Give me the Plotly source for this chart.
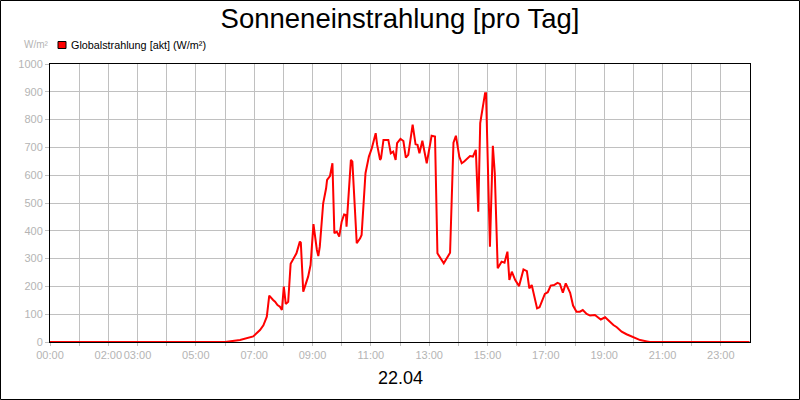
import plotly.graph_objects as go

# times of the day (22.04) and global radiation in W/m²
zeit = ["00:00", "06:00", "06:31", "06:58", "07:12", "07:19", "07:26", "07:31", "07:39", "07:43",
        "07:48", "07:53", "07:57", "08:01", "08:05", "08:10", "08:15", "08:22", "08:27", "08:34",
        "08:36", "08:41", "08:47", "08:51", "08:56", "09:02", "09:09", "09:12", "09:15", "09:22",
        "09:28", "09:30", "09:36", "09:41", "09:45", "09:50", "09:55", "10:00", "10:05", "10:09",
        "10:10", "10:14", "10:19", "10:22", "10:26", "10:31", "10:38", "10:41", "10:49", "10:56",
        "11:02", "11:05", "11:10", "11:13", "11:19", "11:21", "11:26", "11:36", "11:41", "11:46",
        "11:51", "11:54", "12:01", "12:07", "12:12", "12:17", "12:26", "12:32", "12:36", "12:40",
        "12:46", "12:55", "13:05", "13:12", "13:17", "13:30", "13:43", "13:50", "13:55", "14:02",
        "14:07", "14:12", "14:24", "14:30", "14:36", "14:41", "14:45", "14:55", "14:57", "15:05",
        "15:11", "15:15", "15:21", "15:29", "15:35", "15:41", "15:45", "15:50", "15:57", "16:05",
        "16:14", "16:21", "16:26", "16:31", "16:42", "16:47", "16:58", "17:04", "17:10", "17:17",
        "17:24", "17:29", "17:35", "17:41", "17:50", "17:56", "18:03", "18:10", "18:16", "18:24",
        "18:31", "18:41", "18:53", "19:02", "19:08", "19:19", "19:26", "19:36", "19:46", "20:00",
        "20:14", "20:28", "20:34", "23:59"]
globalstrahlung = [0, 0, 7, 20, 43, 60, 91, 167, 151, 145,
                   133, 127, 115, 199, 137, 145, 281, 301, 319, 361,
                   357, 181, 217, 235, 277, 424, 331, 309, 343, 499,
                   553, 583, 597, 643, 391, 397, 379, 433, 459, 457,
                   415, 523, 655, 649, 511, 355, 373, 385, 607, 667,
                   697, 715, 751, 709, 655, 661, 727, 727, 679, 685,
                   655, 715, 731, 723, 663, 673, 782, 711, 709, 679,
                   724, 643, 742, 739, 319, 283, 321, 717, 742, 667,
                   643, 649, 669, 667, 691, 469, 787, 895, 895, 343,
                   706, 607, 265, 289, 285, 325, 223, 253, 223, 201,
                   261, 255, 193, 205, 121, 125, 173, 179, 203, 205,
                   213, 209, 177, 211, 177, 131, 109, 109, 115, 101,
                   95, 97, 81, 89, 79, 61, 53, 37, 28, 17,
                   7, 2, 0, 0]

tag = "2013-04-22"
stunden = ["%02d:00" % h for h in range(24)]
beschriftet = ["00:00", "02:00", "03:00", "05:00", "07:00", "09:00", "11:00",
               "13:00", "15:00", "17:00", "19:00", "21:00", "23:00"]

x = [tag + " " + t for t in zeit]

fig = go.Figure()
fig.add_trace(go.Scatter(x=x, y=globalstrahlung, mode="lines",
                         line=dict(color="#ff0000", width=2), showlegend=False))

fig.update_layout(
    width=800, height=400,
    margin=dict(l=50, r=50, t=64, b=58, autoexpand=False),
    paper_bgcolor="white", plot_bgcolor="white",
    font=dict(family="Liberation Sans, Arial, sans-serif", size=11, color="#b4b4b4"),
    title=dict(text="Sonneneinstrahlung [pro Tag]", x=0.5, xanchor="center", y=0.955, yanchor="middle",
               font=dict(size=27.5, color="black")),
    showlegend=False,
    xaxis=dict(range=[tag + " 00:00", "2013-04-23 00:00"], type="date",
               tickvals=[tag + " " + s for s in stunden],
               ticktext=[s if s in beschriftet else "" for s in stunden],
               tickangle=0, automargin=False,
               showgrid=True, gridcolor="#c0c0c0", gridwidth=1,
               ticks="outside", ticklen=3, tickcolor="#c0c0c0",
               showline=True, linecolor="black", mirror=True,
               tickfont=dict(size=11, color="#b4b4b4"), zeroline=False),
    yaxis=dict(range=[0, 1000], dtick=100, showgrid=True, gridcolor="#c0c0c0",
               automargin=False,
               ticks="outside", ticklen=4, tickcolor="#c0c0c0",
               showline=True, linecolor="black", mirror=True,
               tickfont=dict(size=11, color="#b4b4b4"), zeroline=False),
)

# legend drawn by hand: red square + text
fig.add_shape(type="rect", xref="paper", yref="paper",
              x0=(58 - 50) / 700, x1=(66 - 50) / 700,
              y0=(342 - 48.5) / 278, y1=(342 - 41.5) / 278,
              fillcolor="#ff0000", line=dict(color="black", width=1))
fig.add_annotation(text="Globalstrahlung [akt] (W/m²)", xref="paper", yref="paper",
                   x=(69 - 50) / 700, y=(342 - 45) / 278, xanchor="left", yanchor="middle",
                   showarrow=False, font=dict(size=10.8, color="black"))
fig.add_annotation(text="W/m²", xref="paper", yref="paper", x=(36 - 50) / 700, y=(342 - 45) / 278,
                   xanchor="center", yanchor="middle",
                   showarrow=False, font=dict(size=10, color="#b4b4b4"))
fig.add_annotation(text="22.04", xref="paper", yref="paper", x=0.5, y=(342 - 378) / 278,
                   xanchor="center", yanchor="middle", showarrow=False, font=dict(size=18, color="black"))
# frame around the whole picture
fig.add_shape(type="rect", xref="paper", yref="paper",
              x0=(0.5 - 50) / 700, x1=(799.5 - 50) / 700,
              y0=(342 - 399.5) / 278, y1=(342 - 0.5) / 278,
              line=dict(color="black", width=1))

# page body has an 8px default margin; remove it so the figure sits at the corner
fig.write_html("out.html", config={"displayModeBar": False},
               post_script="document.body.style.margin='0';")
